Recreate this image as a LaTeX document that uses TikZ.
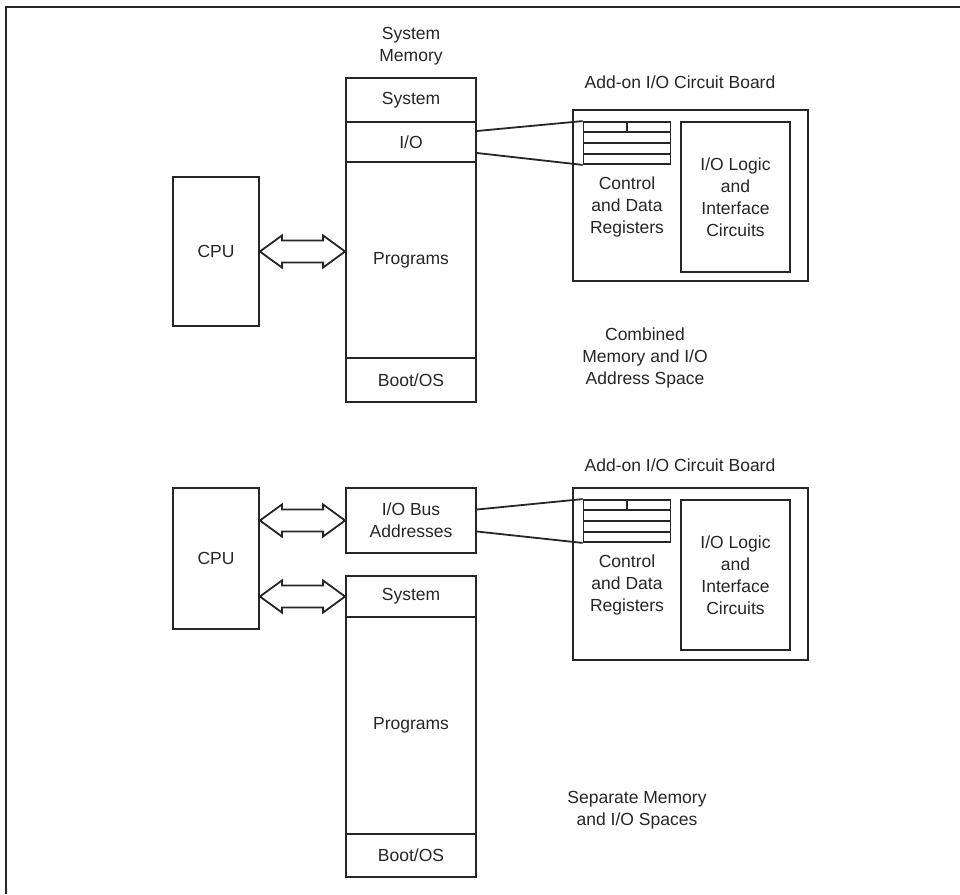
\documentclass[tikz,border=0pt]{standalone}
\usepackage{fontspec}
\setmainfont{Liberation Sans}
\usetikzlibrary{calc}

\begin{document}
\begin{tikzpicture}[x=1pt,y=-1pt,every node/.style={text=black!85,font=\fontsize{17.5}{22}\selectfont},line/.style={draw=black!85,line width=1.8pt},box/.style={line,minimum width=130,inner sep=0pt,align=center},cpubox/.style={line,minimum width=86,inner sep=0pt},board/.style={line,minimum width=235,minimum height=171,inner sep=0pt},logic/.style={line,minimum width=109,minimum height=150,inner sep=0pt,align=center},regs/.style={line,minimum width=87,minimum height=42,inner sep=0pt},bus/.style={line,fill=white},label/.style={align=center,inner sep=0pt}]
\useasboundingbox (0,0) rectangle (960,894);
\draw[line] (6,894) -- (6,7) -- (960,7);
% combined address space
\node[label] (memlbl) at (411,46) {System\\Memory};
\node[box,minimum height=44] (sysA) at (411,100) {System};
\node[box,minimum height=40] (ioA) at (411,142) {I/O};
\node[box,minimum height=196] (progA) at (411,260) {Programs};
\node[box,minimum height=44] (bootA) at (411,380) {Boot/OS};
\node[cpubox,minimum height=149] (cpuA) at (216,251.5) {CPU};
\draw[bus] (cpuA.east) -- ++(22,-16) -- ++(0,5) -- ($(cpuA.east -| progA.west)+(-22,-11)$) -- ++(0,-5) -- (cpuA.east -| progA.west) -- ++(-22,16) -- ++(0,-5) -- ($(cpuA.east)+(22,11)$) -- ++(0,5) -- cycle;
\node[label] (brdlblA) at (680,82) {Add-on I/O Circuit Board};
\node[board] (brdA) at (690.5,195.5) {};
\node[regs] (regA) at (627,143) {};
\foreach \f in {0.25,0.5,0.75} \draw[line] ($(regA.north west)!\f!(regA.south west)$) -- ($(regA.north east)!\f!(regA.south east)$);
\draw[line] (regA.north) -- ($(regA.north)!0.25!(regA.south)$);
\node[label] (ctlA) at (627,207) {Control\\and Data\\Registers};
\node[logic] (logA) at (735.5,197) {I/O Logic\\and\\Interface\\Circuits};
\draw[line] ([yshift=11pt]ioA.east) -- (regA.north west);
\draw[line] ([yshift=-11pt]ioA.east) -- (regA.south west);
\node[label] (cmbA) at (645,358) {Combined\\Memory and I/O\\Address Space};
% separate spaces
\node[cpubox,minimum height=141] (cpuB) at (216,558.5) {CPU};
\node[box,minimum height=65] (ioB) at (411,520.5) {I/O Bus\\Addresses};
\node[box,minimum height=41] (sysB) at (411,596.5) {System};
\node[box,minimum height=217] (progB) at (411,725.5) {Programs};
\node[box,minimum height=43] (bootB) at (411,855.5) {Boot/OS};
\draw[bus] (cpuB.east |- ioB.west) -- ++(22,-16) -- ++(0,5) -- ($(ioB.west)+(-22,-11)$) -- ++(0,-5) -- (ioB.west) -- ++(-22,16) -- ++(0,-5) -- ($(cpuB.east |- ioB.west)+(22,11)$) -- ++(0,5) -- cycle;
\draw[bus] (cpuB.east |- sysB.west) -- ++(22,-16) -- ++(0,5) -- ($(sysB.west)+(-22,-11)$) -- ++(0,-5) -- (sysB.west) -- ++(-22,16) -- ++(0,-5) -- ($(cpuB.east |- sysB.west)+(22,11)$) -- ++(0,5) -- cycle;
\node[label] (brdlblB) at (680,465) {Add-on I/O Circuit Board};
\node[board,minimum height=172] (brdB) at (690.5,574) {};
\node[regs] (regB) at (627,521) {};
\foreach \f in {0.25,0.5,0.75} \draw[line] ($(regB.north west)!\f!(regB.south west)$) -- ($(regB.north east)!\f!(regB.south east)$);
\draw[line] (regB.north) -- ($(regB.north)!0.25!(regB.south)$);
\node[label] (ctlB) at (627,585) {Control\\and Data\\Registers};
\node[logic] (logB) at (735.5,575) {I/O Logic\\and\\Interface\\Circuits};
\draw[line] ([yshift=11pt]ioB.east) -- (regB.north west);
\draw[line] ([yshift=-11pt]ioB.east) -- (regB.south west);
\node[label] (sepB) at (637,810) {Separate Memory\\and I/O Spaces};
\end{tikzpicture}
\end{document}
